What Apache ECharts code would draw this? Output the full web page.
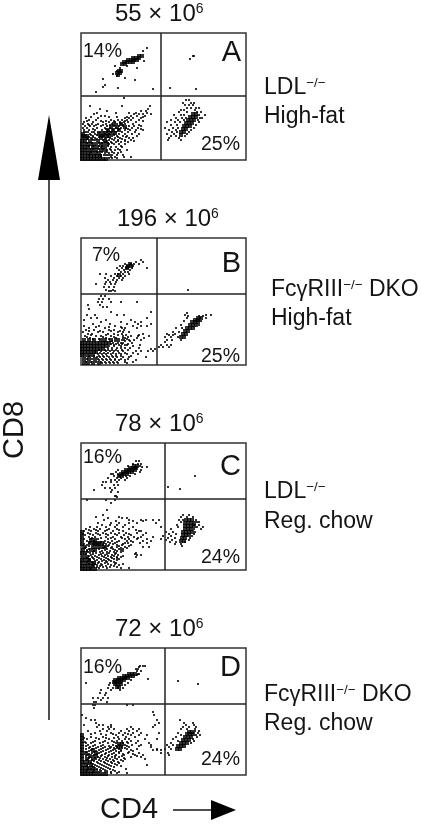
<!DOCTYPE html>
<html>
<head>
<meta charset="utf-8">
<style>
  html, body { margin: 0; padding: 0; background: #fff; }
  #main { width: 421px; height: 829px; }
</style>
<script src="https://cdn.jsdelivr.net/npm/echarts@6/dist/echarts.min.js"></script>
</head>
<body>
<div id="main"></div>
<script>
  // rows are [cd8, cd4, cd4, ...], one row per cd8 level
  const panelNames = ['A', 'B', 'C', 'D'];
  const totals = ['55', '196', '78', '72'];
  const upperLeftPct = ['14%', '7%', '16%', '16%'];
  const lowerRightPct = ['25%', '25%', '24%', '24%'];
  const gateCd4 = [80, 76, 84, 84];
  const gateCd8 = [64, 71, 71, 71];

  const sparseA = [
    [112,66],[109,62],[104,112,113],[101,109],[99,63],[94,34,46],[92,39,56],[89,36],[86,32],[84,36],[82,44],[81,22],[80,54],[75,24],[73,22],[72,37,89],[71,72,115],[68,15],
    [62,43],[60,105,108],[57,102,110,113],[55,104,108,112],[54,9,41,69],[52,106,110,115,118],[51,19,67],[50,100,103,114],[49,26,60,65],[48,98,106,116,120],[46,13,53,58,62,70],[45,93,100,103,118,124],
    [44,20,24,50,56,64],[42,5,17,44,48,52,60,95,101,105,119,121],[40,8,15,30,37,41,46,50,58,90,97,103,117],[38,3,12,22,28,34,39,43,47,55,86,94,99,118],[36,2,7,11,17,25,31,36,40,44,52],[35,90,96,115],
    [34,4,9,13,20,26,33,38,42,48,53,60],[32,2,6,16,24,29,35,40,45,51,57,84,92,97,113],[30,3,8,14,21,27,32,37,44,49,55,62,88,95,110],[28,5,11,17,23,30,35,41,47,54,91,96,108],
    [26,9,14,24,28,33,38,44,51,58,86,93,106],[24,12,23,27,31,36,42,46,56,90,95,104],[22,10,14,25,29,34,39,48,52,88,98],[20,12,14,22,28,33,37,44,50,87,100],[18,24,30,35,40,47],[16,16,23,28,33,38,44],
    [13,20,25,30,35,41],[10,26,30,34,39,46],[7,24,28,33,37],[5,23,27,31,42],[2,28,31,36],
    [28,3,7,13,19,26],[25,5,10,16,21,26,33],[23,8,12,18,21,27,37,45],[21,6,11,16,24,31,41],[17,6,11,18,21,27,31],[14,8,12,18,21,27,40],[11,5,12,18,22,29,37],[8,10,16,21,26,31,40],[5,8,14,20,25,29,36],[3,20,30,34,43,50],[19,26,37,44,53],[35,8,15,22,29,42,58],[39,6,20,25,33,44,62],[43,10,28,36,46,62],[47,16,35,48,55,66],[31,12,25,38,47,60]
  ];
  const denseA = [
    [104,58,61],[102,52,55,58],[100,47,50,53,56],[98,43,46,49,52],[96,41,44],[89,38,40],[87,36,39],[85,37],
    [46,112,115],[43,109,112,115],[40,107,110,113],[37,105,108,111],[34,103,106,109],[31,102,105],[28,100,103],[25,100],
    [36,33,40],[33,30,36,44],[30,27,32,38],[27,22,26,30,34],[26,2,18],[24,2,6,20,24,28],[22,2,6,20],[19,1,4,9,17,24],[16,1,5,9,13,20,26],[13,1,4,7,12,16,22],[10,1,4,8,11,15,20,24],[7,1,4,7,10,14,18],[4,1,4,7,10,13,16,19],[1,1,4,7,10,13,16,19,22,25]
  ];

  const sparseB = [
    [105,60],[103,55,62],[101,44,50,53,58],[99,39,42,46,52],[97,36,41,45,47,51,66],[95,38,43,49],[93,40,44,47],[91,19,25,34,37,42,48],[89,30,36,40,44],[87,24,33,38,42],[85,27,32,36,41],[83,25,29,35],
    [81,15,24,30,34],[78,23,28,33],[75,25,32,107],[74,28,30,34],
    [69,20,24],[66,18,22,28],[63,17,21,30,40,56],[60,7,19],[58,22,26],[56,8],[53,30,70],[52,106],[50,6,14,36,43,104,125,130],[49,107,118,122],[47,10,16,66,106,119,125],[45,3,25,50],[44,103,120],
    [43,20,40,54,60],[41,12,29,46,57,70],[40,100,118],[39,3,18,34,52,60,66],[37,8,24,41,44,56,95,101],[35,5,13,28,33,43],[33,2,17,22,37,42,48,92,98],[31,7,11,27,33,41,62,86,94],[30,88,92],
    [29,4,15,20,30,42,50,57,68],[28,84,90,97],[27,9,25,35,42,44,56,63],[25,41,43,48,53,60,86,91,100],[23,84],[22,32,37,40,42,51],[20,33,38,44,46,59,80,86,90],[18,78,82,88],[17,27,31,36,40,44,49,58],[16,70,74],
    [14,20,25,29,33,37,42,55,60,67,72],[11,17,21,25,30,35,40,46,57],[8,16,19,23,28,32,36,42,48,65],[5,18,22,26,30,34,38,44,55],[2,21,25,29,33,37,46],
    [24,31,38,44,49],[21,30,35,41,47],[19,28,33,40,52],[15,18,24,27,31,35,41,47],[12,14,19,23,27,32,38,44,52],[9,8,13,18,22,26,31,35,40,50],[6,6,11,17,21,25,29,34,40,47],[3,5,10,15,20,24,28,32,36,44,52],[26,12,18,28,38,46],[28,6,22,33,47],[30,10,25,37,45,58],[34,8,19,30,39],[38,15,28,40]
  ];
  const denseB = [
    [101,49],[99,47,50],[97,46],[90,38],
    [47,117,120],[45,114,117],[43,111,114,117],[40,109,112,115],[37,106,109,112],[34,104,107],[31,102,105],[28,100,103],
    [25,3,8,13,20,24,30,35],[22,1,4,7,10,13,16,19,22,25,28],[19,1,4,7,10,13,16,19,22,25],[16,1,4,7,10,13,16,19,22],[13,1,4,7,10,13,15],[10,1,4,8,12],[6,3,8,14],[2,3,7,12,18]
  ];

  const sparseC = [
    [109,55,58],[106,52,57,60],[104,47,59],[103,61,66],[100,37,60],[98,35,59],[96,30,32,37,42,54],[94,33,38,45,49,114],[92,27,36,40,46],[90,30,34,38,44],[88,22,25,30,36],[85,21,33,37],[83,87],
    [82,24,29,34],[81,99],[80,13,31],[78,30,37],[74,34,35],[73,36],
    [70,6,25,34],[67,30],[60,26],[55,22,102,108],[53,15,38,100,106,112],[52,27,41,46],[50,23,48,60,65,72,78,98,102,115],[49,35,52,62],[48,100,116,118],[47,17,30,38,48,56,75],[45,21,29,36,44,96,113,118],
    [43,9,16,25,34,42,52,80,97,116,122],[41,5,13,19,28,36,48,90,113,120],[39,3,10,17,24,32,42,58,60],[38,85,92,114],[37,7,15,22,30,38,45,56,65],[36,88,95,113],[35,4,12,19,27,36,43,50,62],[34,82,90,111],
    [33,8,14,25,32,40,47,53,60,72],[32,87,94,109],[31,3,10,17,27,34,44,48,56,66,80],[30,85,91,108],[29,6,13,24,31,38,46,50,62,70],[28,89,95,104],[27,8,23,29,34,44,47,59,66],[26,94,100],[25,6,22,28,36,41,50],[24,101],
    [23,5,24,31,36,44,62,68],[21,8,18,26,32,38,42],[19,6,13,21,29,36,42],[17,9,15,22,28,35,55],[15,10,18,24,31,37,56,60],[13,11,16,23,30,36,40,55],[11,8,13,20,27,33,38],[9,7,14,21,25,30],[7,12,17,24,35],[5,10,16,21,30,38],[3,9,16,22,29,36],
    [32,11,20,30,41,57],[28,10,20,27,36,52],[26,3,12,25,32,42],[24,8,27,38,48],[22,4,22,30,40,46],[20,6,24,34,40],[18,7,12,19,26,33,40],[16,5,12,20,26,34,54],[14,8,14,21,27,33,42],[12,6,12,18,25,31,36],[10,9,16,23,28,36],[8,6,11,18,26,33],[6,8,14,20,27,34,42],[4,12,19,25,33],[2,10,18,26,40,48],[36,2,9,17,25,34,48],[40,8,15,26,38,55]
  ];
  const denseC = [
    [104,53,56],[102,49,52,55],[100,45,48,51,54],[98,42,45,48,51],[96,40,43,46],[94,38,41],
    [50,105,108,111],[47,104,107,110,113],[44,104,107,110,113],[41,104,107,110],[38,102,105,108,111],[35,102,105,108],[32,101,104],[29,100,103],
    [38,1],[34,1],[30,1,10,14],[27,9,13,17,21],[26,1,14,18],[23,3,12,16,20,24],[20,2,10,14],[17,1,4],[13,2,6],[10,1,4,8],[7,1,5,9,13],[4,1,4,7,12],[1,1,4,7,10,14]
  ];

  const sparseD = [
    [109,59,62,64],[108,58],[106,55,57],[104,60,56],[101,58,57],[100,56],[96,67],[95,50],[94,97],[92,5,29,47],[91,117],[90,28,35,44],[87,27,32,37,42],[85,20,30,39],[82,19,25],[80,24],[77,12,17,22,27],[75,20],[73,13,15,26],
    [70,12,14,46,52],[67,13],[63,72],[60,1,73],[57,5],[55,10,14,76,99],[52,15,78,103,112],[50,3,18,22,30,74,105,113],[48,16,27,30,50,72,102,108,115],[46,22,28,33,46,52,58,100,106,114],
    [44,7,19,26,40,48,56,114,118],[42,14,30,38,44,52,60,78,97,117],[40,25,35,42,50,58,66,100,115,119],[38,10,22,37,45,54,95,116],[36,6,18,28,38,44,48,64,76,92,112],[34,14,24,31,36,41,50,57,97,113],
    [32,5,10,19,27,35,42,47,55,68,90,110],[30,7,14,22,32,38,44,51,60,70,86,92],[28,9,17,24,30,36,41,48,70,88],[26,5,12,20,27,34,38,46,56,76,84,90],[25,72,76,80],[24,8,15,22,30,35,40,52],
    [22,11,18,25,33,38,47,58,80,87],[20,6,13,21,28,35,43,54,62,88],[18,9,17,24,31,38,50,60],[16,15,22,29,36,44,64],[14,13,20,27,33,42],[12,10,17,24,31,38],[10,14,21,28,36,66],[8,12,18,25,33],[6,10,16,22,29,45],[4,20,26,34],[2,30,36,46],
    [33,4,12,22,33,46],[29,5,12,20,28,35,46,58],[27,8,15,22,29,33,44],[25,10,18,25,32,40,50],[23,5,13,20,28,38,48],[21,8,16,24,31,42,52],[19,5,12,20,27,34,41,56],[17,8,14,19,26,34,43],[15,6,11,18,25,32,40],[13,7,16,23,30,37],[11,7,12,19,26,34],[9,6,11,16,23,30,40],[7,7,14,20,27],[5,6,13,19,24,32],[3,5,12,18,24,30,38],[37,3,15,25,33],[41,10,20,32,47]
  ];
  const denseD = [
    [101,48,51,54],[99,43,46,49,52],[97,38,41,44,47],[95,34,37,40,43],[93,33,36,39],[91,34,37,40],[88,36,38],
    [43,108,111],[41,106,109,112],[38,104,107,110],[35,102,105,108],[32,100,103,106],[29,97,100,103],[26,96,99],
    [40,1],[37,1],[34,1],[31,1,38,41],[28,1,37,40],[25,1,12],[22,1,5,15],[19,1,9,15],[16,1,6,12],[13,1,4,9],[10,1,5,10],[7,1,4,8,12],[4,1,4,7,11,15],[1,1,4,7,10,13,17,21,25]
  ];

  const sparseRows = [sparseA, sparseB, sparseC, sparseD];
  const denseRows = [denseA, denseB, denseC, denseD];

  // page layout
  const boxTop = [33, 238, 443, 648];
  const boxLeft = 81, boxW = 165, boxH = 127;
  const titleX = [115, 117, 115, 115];
  const titleY = [14, 219, 424, 629];
  const upperPctX = [83, 92, 83, 83];
  const upperPctY = [52, 256, 458, 668];
  const lowerPctY = [145, 357, 558, 760];
  const letterY = [53, 264, 467, 668];
  const labelX = [264, 271, 264, 264];
  const labelY = [[88, 117], [290, 319], [492, 522], [695, 724]];
  const labelLines = [
    ['LDL{sup|−/−}', 'High-fat'],
    ['Fc{g|γ}RIII{sup|−/−} DKO', 'High-fat'],
    ['LDL{sup|−/−}', 'Reg. chow'],
    ['Fc{g|γ}RIII{sup|−/−} DKO', 'Reg. chow']
  ];

  const ink = '#141414';
  const fontName = '"Liberation Sans", Arial, sans-serif';

  function toPoints(rows) {
    const pts = [];
    rows.forEach(row => {
      row.slice(1).forEach(x => pts.push([x, row[0]]));
    });
    return pts;
  }

  function txt(x, y, text, size, align) {
    return {
      type: 'text',
      silent: true,
      style: {
        x: x,
        y: y,
        text: text,
        fill: ink,
        font: size + 'px ' + fontName,
        textAlign: align || 'left',
        textVerticalAlign: 'middle',
        rich: {
          sup: { fontSize: size * 0.58, fontFamily: fontName, fill: ink, verticalAlign: 'top', lineHeight: size * 0.9 },
          g: { fontSize: size * 0.95, fontFamily: fontName, fill: ink }
        }
      }
    };
  }

  const grids = [], xAxes = [], yAxes = [], series = [], graphics = [];

  panelNames.forEach((name, i) => {
    grids.push({
      show: true,
      left: boxLeft,
      top: boxTop[i],
      width: boxW,
      height: boxH,
      borderColor: '#333',
      borderWidth: 1.5,
      backgroundColor: 'transparent'
    });
    xAxes.push({ gridIndex: i, type: 'value', min: 0, max: boxW, show: false });
    yAxes.push({ gridIndex: i, type: 'value', min: 0, max: boxH, show: false });

    series.push({
      name: name + ' sparse',
      type: 'scatter',
      xAxisIndex: i,
      yAxisIndex: i,
      symbol: 'rect',
      symbolSize: 2,
      silent: true,
      animation: false,
      itemStyle: { color: '#000' },
      data: toPoints(sparseRows[i]),
      markLine: {
        silent: true,
        symbol: 'none',
        animation: false,
        label: { show: false },
        lineStyle: { color: '#222', width: 1.5, type: 'solid' },
        data: [{ xAxis: gateCd4[i] }, { yAxis: gateCd8[i] }]
      }
    });
    series.push({
      name: name + ' dense',
      type: 'scatter',
      xAxisIndex: i,
      yAxisIndex: i,
      symbol: 'rect',
      symbolSize: 4,
      silent: true,
      animation: false,
      itemStyle: { color: '#000' },
      data: toPoints(denseRows[i])
    });

    graphics.push(txt(titleX[i], titleY[i], totals[i] + ' × 10{sup|6}', 24));
    graphics.push(txt(upperPctX[i], upperPctY[i], upperLeftPct[i], 19.5));
    graphics.push(txt(201, lowerPctY[i], lowerRightPct[i], 19.5));
    graphics.push(txt(241, letterY[i], name, 29, 'right'));
    graphics.push(txt(labelX[i], labelY[i][0], labelLines[i][0], 23));
    graphics.push(txt(labelX[i], labelY[i][1], labelLines[i][1], 23));
  });

  // axis names and arrows
  graphics.push(Object.assign(txt(0, 0, 'CD8', 29, 'center'), { x: 15, y: 430, rotation: Math.PI / 2 }));
  graphics.push(txt(100, 810, 'CD4', 29));
  graphics.push({ type: 'line', silent: true, shape: { x1: 49, y1: 720, x2: 49, y2: 178 }, style: { stroke: ink, lineWidth: 1.5 } });
  graphics.push({ type: 'polygon', silent: true, shape: { points: [[49, 115], [38, 180], [60, 180]] }, style: { fill: '#000' } });
  graphics.push({ type: 'line', silent: true, shape: { x1: 173, y1: 810, x2: 213, y2: 810 }, style: { stroke: ink, lineWidth: 1.5 } });
  graphics.push({ type: 'polygon', silent: true, shape: { points: [[236, 810], [211, 800], [211, 820]] }, style: { fill: '#000' } });

  const myChart = echarts.init(document.getElementById('main'));
  myChart.setOption({
    backgroundColor: '#fff',
    animation: false,
    grid: grids,
    xAxis: xAxes,
    yAxis: yAxes,
    series: series,
    graphic: { elements: graphics }
  });
</script>
</body>
</html>
